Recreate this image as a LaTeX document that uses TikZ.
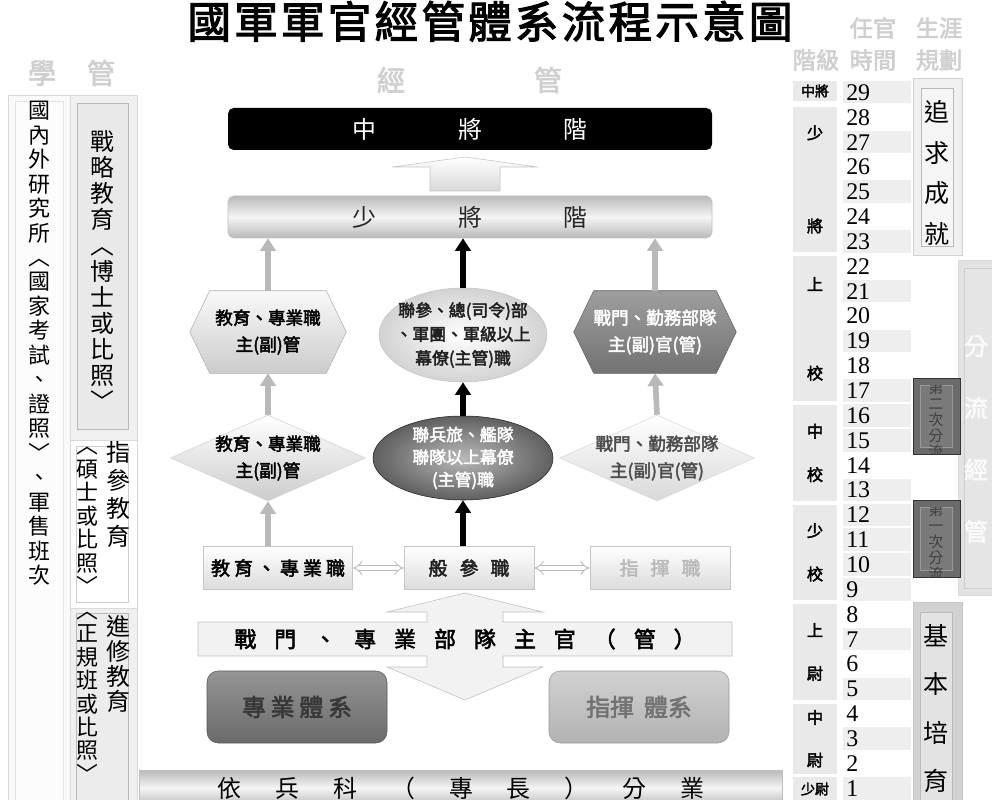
\documentclass[tikz,border=0pt]{standalone}
\usepackage{fontspec}
\setmainfont{Noto Sans CJK TC}[AutoFakeBold=2.5]
\newfontfamily\numfont{Liberation Serif}
\usetikzlibrary{arrows.meta,shapes.geometric,calc}

\makeatletter
% one glyph per line, fixed pitch
\newcommand\vtxt[2]{\vbox{\baselineskip=#1\relax\lineskiplimit=-50pt\@tfor\vch:=#2\do{\hbox to 1em{\hss\vch\hss}}}}
% glyphs in a row with a fixed gap
\newcommand\spread[2]{\@tfor\sch:=#2\do{\sch\hspace{#1}}\unskip}
\makeatother
\newcommand\px[1]{#1*0.025cm}
\newcommand\hexpath[1]{(#1.west) -- ($(#1.north west)+(20,0)$) -- ($(#1.north east)+(-20,0)$) -- (#1.east) -- ($(#1.south east)+(-20,0)$) -- ($(#1.south west)+(20,0)$) -- cycle}

\tikzset{
  hdr/.style={text=gray!38, font=\bfseries\fontsize{16.5}{18}\selectfont, inner sep=0pt},
  vcol/.style={anchor=north, inner sep=0pt},
  bar/.style={rounded corners=4pt, minimum width=\px{484}, minimum height=\px{42}, inner sep=0pt, font=\fontsize{17}{20}\selectfont},
  hexbox/.style={minimum width=\px{156}, minimum height=\px{82}, inner sep=0pt},
  diam/.style={diamond, minimum width=\px{195}, minimum height=\px{86}, inner sep=0pt},
  btxt/.style={font=\bfseries\fontsize{12.5}{19}\selectfont, align=center, inner sep=0pt},
  rowbox/.style={draw=gray!45, top color=white, bottom color=gray!28, minimum height=\px{43}, inner sep=0pt, font=\bfseries\fontsize{13.5}{15}\selectfont},
  sysbox/.style={rounded corners=8pt, minimum width=\px{180}, minimum height=\px{72}, inner sep=0pt, font=\bfseries\fontsize{17}{19}\selectfont},
  flbox/.style={vcol, text=black!75, font=\fontsize{10.7}{11}\selectfont},
  num/.style={anchor=west, inner sep=0pt, font=\numfont\fontsize{17}{17}\selectfont},
  grade/.style={inner sep=0pt, font=\bfseries\fontsize{11.5}{12}\selectfont}
}

\begin{document}
\begin{tikzpicture}[x=0.025cm,y=-0.025cm,
  uparr/.style={draw=gray!55, line width=4pt, -{Triangle[length=9pt,width=11pt]}},
  blkarr/.style={draw=black, line width=4pt, -{Triangle[length=9pt,width=11pt]}},
  dblarr/.style={draw=gray!55, double=white, double distance=3pt, line width=0.6pt, {Implies}-{Implies}}]
\useasboundingbox (0,0) rectangle (992,800);
\fill[white] (0,0) rectangle (992,800);

% title and headings
\node[font=\bfseries\fontsize{31}{34}\selectfont, anchor=base, inner sep=0pt] (title) at (490,38) {\spread{0.08cm}{國軍軍官經管體系流程示意圖}};
\node[hdr, font=\bfseries\fontsize{20}{22}\selectfont] (hxue) at (42,73) {學};
\node[hdr, font=\bfseries\fontsize{20}{22}\selectfont] (hguan) at (101,73) {管};
\node[hdr, font=\bfseries\fontsize{20}{22}\selectfont] (hjing) at (391,80) {經};
\node[hdr, font=\bfseries\fontsize{20}{22}\selectfont] (hguan2) at (548,80) {管};
\node[hdr] (hrg) at (873,28) {任官};
\node[hdr] (hsy) at (939,28) {生涯};
\node[hdr] (hjj) at (816,60) {階級};
\node[hdr] (hsj) at (873,60) {時間};
\node[hdr] (hgh) at (939,60) {規劃};

% left columns
\draw[gray!30, fill=gray!5] (8,95) rectangle (70,805);
\draw[gray!22, fill=gray!2] (15,101) rectangle (63,805);
\node[vcol, font=\fontsize{15.6}{17}\selectfont] (yjs) at (39,101) {\vtxt{17.4pt}{國內外研究所︿國家考試、證照﹀、軍售班次}};
\draw[gray!30, fill=gray!12] (70,95) rectangle (137,440);
\draw[gray!55, fill=gray!17] (77,103) rectangle (128,429);
\node[vcol, font=\fontsize{17}{19}\selectfont] (zljy) at (102,130) {\vtxt{18.5pt}{戰略教育︿博士或比照﹀}};
\draw[gray!30, fill=white] (70,440) rectangle (137,608);
\draw[gray!40] (76,446) rectangle (128,602);
\draw[gray!30, fill=gray!12] (70,608) rectangle (137,805);
\draw[gray!55, fill=gray!15] (76,613) rectangle (128,805);
\node[vcol, font=\fontsize{17}{19}\selectfont] (zcjy) at (118,441) {\vtxt{19.9pt}{指參教育}};
\node[vcol, font=\fontsize{17}{19}\selectfont] (jxjy) at (118,615) {\vtxt{17.8pt}{進修教育}};
\node[vcol, font=\fontsize{15.6}{17}\selectfont] (ssbz) at (87,447) {\vtxt{16.7pt}{︿碩士或比照﹀︿正規班或比照﹀}};

% general ranks
\node[bar, fill=black, text=white] (zj) at (470,129) {\spread{2.05cm}{中將階}};
\draw[gray!45, top color=white, bottom color=gray!30] (392,167) -- (465,157) -- (538,167) -- (500,167) -- (500,191) -- (430,191) -- (430,167) -- cycle;
\node[bar, draw=gray!50, top color=gray!55, bottom color=gray!55, middle color=gray!8, text=gray!30!black] (sj) at (470,217) {\spread{2.05cm}{少將階}};

% upper row
\node[hexbox] (lh) at (268,332) {};
\draw[draw=gray!60, top color=gray!5, bottom color=gray!40] \hexpath{lh};
\node[btxt] (lht) at (lh) {教育、專業職\\主(副)管};
\node[ellipse, draw=gray!45, inner color=white, outer color=gray!35, minimum width=\px{168}, minimum height=\px{94}, inner sep=0pt] (mc) at (463,335) {};
\node[btxt, font=\bfseries\fontsize{12}{17}\selectfont, text=gray!25!black] (mct) at (mc) {聯參、總(司令)部\\、軍團、軍級以上\\幕僚(主管)職};
\node[hexbox, minimum width=\px{162}] (rh) at (655,332) {};
\draw[draw=black!60, top color=black!38, bottom color=black!55] \hexpath{rh};
\node[btxt, text=white] (rht) at (rh) {戰門、勤務部隊\\主(副)官(管)};

% lower row
\node[diam, draw=gray!35, top color=white, bottom color=gray!40] (ld) at (268,458) {};
\node[btxt] (ldt) at (ld) {教育、專業職\\主(副)管};
\node[ellipse, draw=gray!30!black, inner color=gray!55, outer color=gray!75!black, minimum width=\px{180}, minimum height=\px{84}, inner sep=0pt] (mc2) at (463,458) {};
\node[btxt, font=\bfseries\fontsize{12}{16}\selectfont, text=white] (mc2t) at (mc2) {聯兵旅、艦隊\\聯隊以上幕僚\\(主管)職};
\node[diam, draw=gray!30, top color=white, bottom color=gray!30] (rd) at (657,458) {};
\node[btxt, text=gray!60!black] (rdt) at (rd) {戰門、勤務部隊\\主(副)官(管)};

% posts
\node[rowbox, minimum width=\px{149}] (be) at (278,568) {\spread{0.1cm}{教育、專業職}};
\node[rowbox, minimum width=\px{130}, text=gray!25!black] (bg) at (469,568) {\spread{0.3cm}{般參職}};
\node[rowbox, minimum width=\px{140}, text=gray!55] (bc) at (660,568) {\spread{0.3cm}{指揮職}};
\draw[dblarr] (be.east) -- (bg.west);
\draw[dblarr] (bg.east) -- (bc.west);

% arrows
\draw[uparr] (lh.north) -- (lh.north |- sj.south);
\draw[blkarr] (mc.north) -- (mc.north |- sj.south);
\draw[uparr] (rh.north) -- (rh.north |- sj.south);
\draw[uparr] (ld.north) -- (lh.south);
\draw[blkarr] (mc2.north) -- (mc.south);
\draw[uparr] (rd.north) -- (rh.south);
\draw[uparr] (ld |- be.north) -- (ld.south);
\draw[blkarr] (mc2 |- bg.north) -- (mc2.south);

% unit commanders bar with double arrow
\draw[gray!50, fill=gray!10] (198,622) -- (427,622) -- (427,612) -- (387,612) -- (465,593) -- (543,612) -- (503,612) -- (503,622) -- (732,622) -- (732,656) -- (503,656) -- (503,667) -- (543,667) -- (465,700) -- (387,667) -- (427,667) -- (427,656) -- (198,656) -- cycle;
\node[inner sep=0pt, font=\bfseries\fontsize{15.6}{17}\selectfont] (zybd) at (465,639) {\spread{0.45cm}{戰門、專業部隊主官（管）}};

% systems
\node[sysbox, draw=black!65, top color=black!42, bottom color=black!58, text=black!78] (zyxt) at (297,707) {\spread{0.12cm}{專業體系}};
\node[sysbox, draw=black!40, top color=black!18, bottom color=black!30, text=black!55] (zhxt) at (639,707) {指揮\hspace{0.25cm}體系};
\node[draw=gray!50, top color=gray!55, bottom color=gray!55, middle color=gray!8, minimum width=\px{643}, minimum height=\px{36}, inner sep=0pt, font=\fontsize{17}{19}\selectfont] (ybk) at (461,788) {\spread{0.85cm}{依兵科（專長）分業}};

% time table
\foreach \n in {29,27,25,23,21,19,17,16,15,13,12,11,10,9,7,5,3,1}{
  \pgfmathsetmacro\yt{80+(29-\n)*24.86}
  \fill[gray!13] (843,\yt+1) rectangle (911,\yt+23.5);
}
\foreach \n in {1,...,29}{
  \pgfmathsetmacro\yc{92.4+(29-\n)*24.86}
  \node[num] (t\n) at (846,\yc) {\n};
}
\foreach \a/\b/\o/\c/\d in {28/23/26/少/將, 22/17/28/上/校, 16/13/26/中/校, 12/9/26/少/校, 8/5/26/上/尉, 4/2/14/中/尉}{
  \pgfmathsetmacro\ya{80+(29-\a)*24.86+2}
  \pgfmathsetmacro\yb{80+(30-\b)*24.86-2}
  \fill[gray!17] (793,\ya) rectangle (837,\yb);
  \node[grade] (g\a a) at (815,\ya+\o) {\c};
  \node[grade] (g\a b) at (815,\yb-\o) {\d};
}
\fill[gray!17] (793,81) rectangle (837,101);
\node[grade, font=\bfseries\fontsize{10}{10}\selectfont] (g29) at (815,91) {中將};
\fill[gray!17] (793,777) rectangle (837,805);
\node[grade, font=\bfseries\fontsize{10}{10}\selectfont] (g1) at (815,789) {少尉};

% career planning
\draw[gray!35, fill=gray!12] (913,78) rectangle (962,255);
\draw[gray!55, fill=gray!8] (921,88) rectangle (953,246);
\node[vcol, font=\fontsize{17.8}{19}\selectfont] (zqcj) at (937,100) {\vtxt{28.9pt}{追求成就}};
\draw[gray!30, fill=gray!22] (958,260) rectangle (1000,595);
\draw[gray!40, fill=gray!20] (964,268) rectangle (1000,588);
\node[vcol, text=gray!4, font=\bfseries\fontsize{17}{19}\selectfont] (fljg) at (976,335) {\vtxt{44pt}{分流經管}};
% second split
\draw[black!80, fill=black!58] (913,378) rectangle (960,454);
\draw[black!40, fill=black!52] (920,385) rectangle (952,447);
\begin{scope}
  \clip (920,385) rectangle (952,454);
  \node[flbox] (fl2) at (936,380) {\vtxt{11.4pt}{第二次分流}};
\end{scope}
% first split
\draw[black!80, fill=black!58] (913,500) rectangle (960,577);
\draw[black!40, fill=black!52] (920,507) rectangle (952,570);
\begin{scope}
  \clip (920,507) rectangle (952,577);
  \node[flbox] (fl1) at (936,502) {\vtxt{11.4pt}{第一次分流}};
\end{scope}
\draw[gray!45, fill=gray!35] (913,602) rectangle (962,805);
\draw[gray!55, fill=gray!22] (920,612) rectangle (952,805);
\node[vcol, font=\fontsize{17.8}{19}\selectfont] (jbpy) at (936,624) {\vtxt{34.5pt}{基本培育}};
\end{tikzpicture}
\end{document}
